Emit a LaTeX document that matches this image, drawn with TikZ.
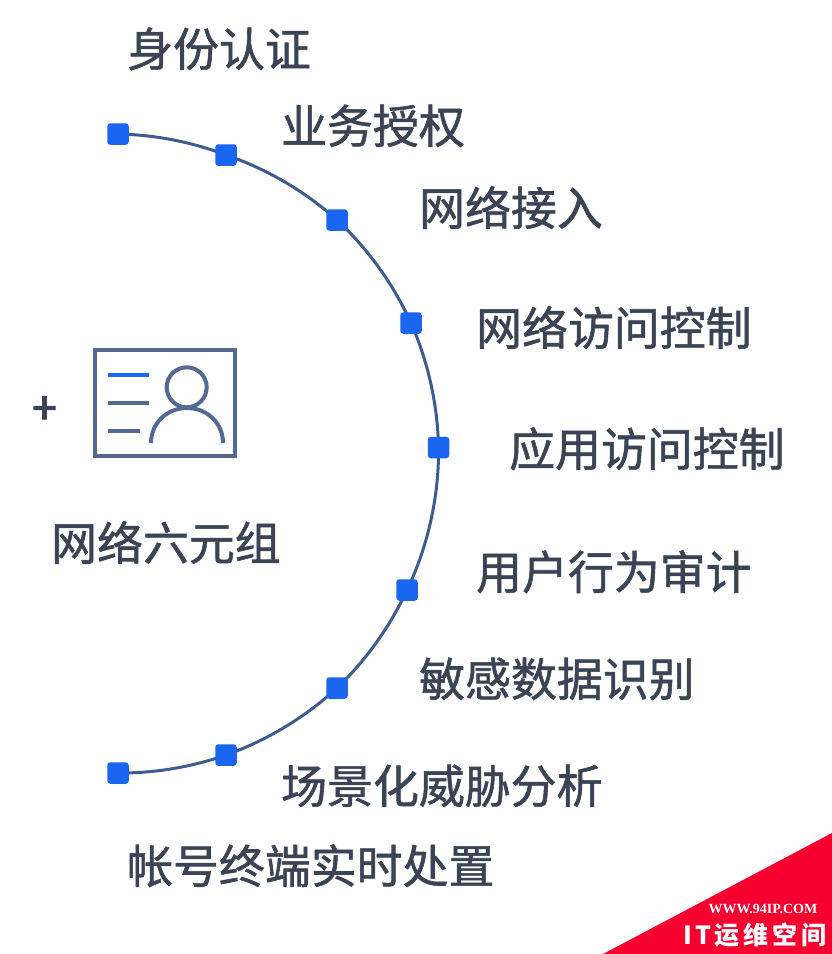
\documentclass[tikz,border=0pt]{standalone}
\usetikzlibrary{backgrounds}
\usepackage{fontspec}
\setmainfont{Noto Sans CJK SC}
\newfontfamily\cjkmed[FakeBold=1.2]{Noto Sans CJK SC}
\newfontfamily\cjkplus[FakeBold=3]{Noto Sans CJK SC}
\newfontfamily\cjkreg{Noto Sans CJK SC}
\newfontfamily\wmserif{Liberation Serif}
\definecolor{lbl}{HTML}{3A4454}
\definecolor{dot}{HTML}{1A66F0}
\definecolor{arcline}{HTML}{3E5C90}
\definecolor{icon}{HTML}{546A93}
\definecolor{wm}{HTML}{F5002F}
\tikzset{
  lab/.style={anchor=west,inner sep=0pt,text=lbl,font=\fontsize{45.9}{50}\selectfont\cjkmed,text height=40pt,text depth=5.5pt},
  marker/.style={draw=none,fill=dot,rounded corners=3pt,minimum size=21.5pt,inner sep=0pt},
  arcseg/.style={draw=arcline,line width=3pt,looseness=0.85},
  iconline/.style={draw=icon,line width=4pt},
}
\begin{document}
\begin{tikzpicture}[x=1pt,y=-1pt]
\useasboundingbox (0,0) rectangle (832,954);
% markers
\node[marker] (n0) at (118,134) {};
\node[marker] (n1) at (226,155) {};
\node[marker] (n2) at (337,220) {};
\node[marker] (n3) at (411,323) {};
\node[marker] (n4) at (438.5,447.5) {};
\node[marker] (n5) at (407,590) {};
\node[marker] (n6) at (337,688) {};
\node[marker] (n7) at (226,755) {};
\node[marker] (n8) at (118,773) {};
% arc
\begin{scope}[on background layer]
\fill[white] (0,0) rectangle (832,954);
\draw[arcseg] (n0.center) to[bend left=9.9] (n1.center);
\draw[arcseg] (n1.center) to[bend left=11.6] (n2.center);
\draw[arcseg] (n2.center) to[bend left=11.4] (n3.center);
\draw[arcseg] (n3.center) to[bend left=11.4] (n4.center);
\draw[arcseg] (n4.center) to[bend left=13.2] (n5.center);
\draw[arcseg] (n5.center) to[bend left=10.8] (n6.center);
\draw[arcseg] (n6.center) to[bend left=11.6] (n7.center);
\draw[arcseg] (n7.center) to[bend left=9.9] (n8.center);
\end{scope}
% labels
\node[lab] (t0) at (127,49) {身份认证};
\node[lab] (t1) at (281,126) {业务授权};
\node[lab] (t2) at (419,208) {网络接入};
\node[lab] (t3) at (476,328) {网络访问控制};
\node[lab] (t4) at (509,449) {应用访问控制};
\node[lab] (t5) at (476,572) {用户行为审计};
\node[lab] (t6) at (419,679) {敏感数据识别};
\node[lab] (t7) at (281,786) {场景化威胁分析};
\node[lab] (t8) at (127,866) {帐号终端实时处置};
\node[lab] (t9) at (51,543) {网络六元组};
% plus
\node[inner sep=0pt,text=lbl,font=\fontsize{44}{48}\selectfont\cjkplus] (plus) at (44.5,410.5) {+};
% id card icon
\draw[iconline] (95,349.5) rectangle (234.5,456);
\draw[draw=dot,line width=4pt] (108,374.7) -- (149,374.7);
\draw[iconline] (108,402.7) -- (149,402.7);
\draw[iconline] (108,430.7) -- (139.5,430.7);
\draw[iconline] (186.7,387.3) circle (20);
\draw[iconline] (151,443) .. controls (151,423) and (167,408) .. (187,408) .. controls (207,408) and (223,423) .. (223,443);
% watermark
\fill[wm] (832,833) -- (832,954) -- (603,954) -- cycle;
\node[inner sep=0pt,text=white,font=\fontsize{14}{16}\selectfont\wmserif\bfseries] (w1) at (763,909) {WWW.94IP.COM};
\node[inner sep=0pt,text=white,font=\fontsize{25}{28}\selectfont\cjkreg\bfseries] (w2) at (755,935) {I\hspace{4pt}T\hspace{3pt}运\hspace{4pt}维\hspace{4pt}空\hspace{4pt}间};
\end{tikzpicture}
\end{document}
